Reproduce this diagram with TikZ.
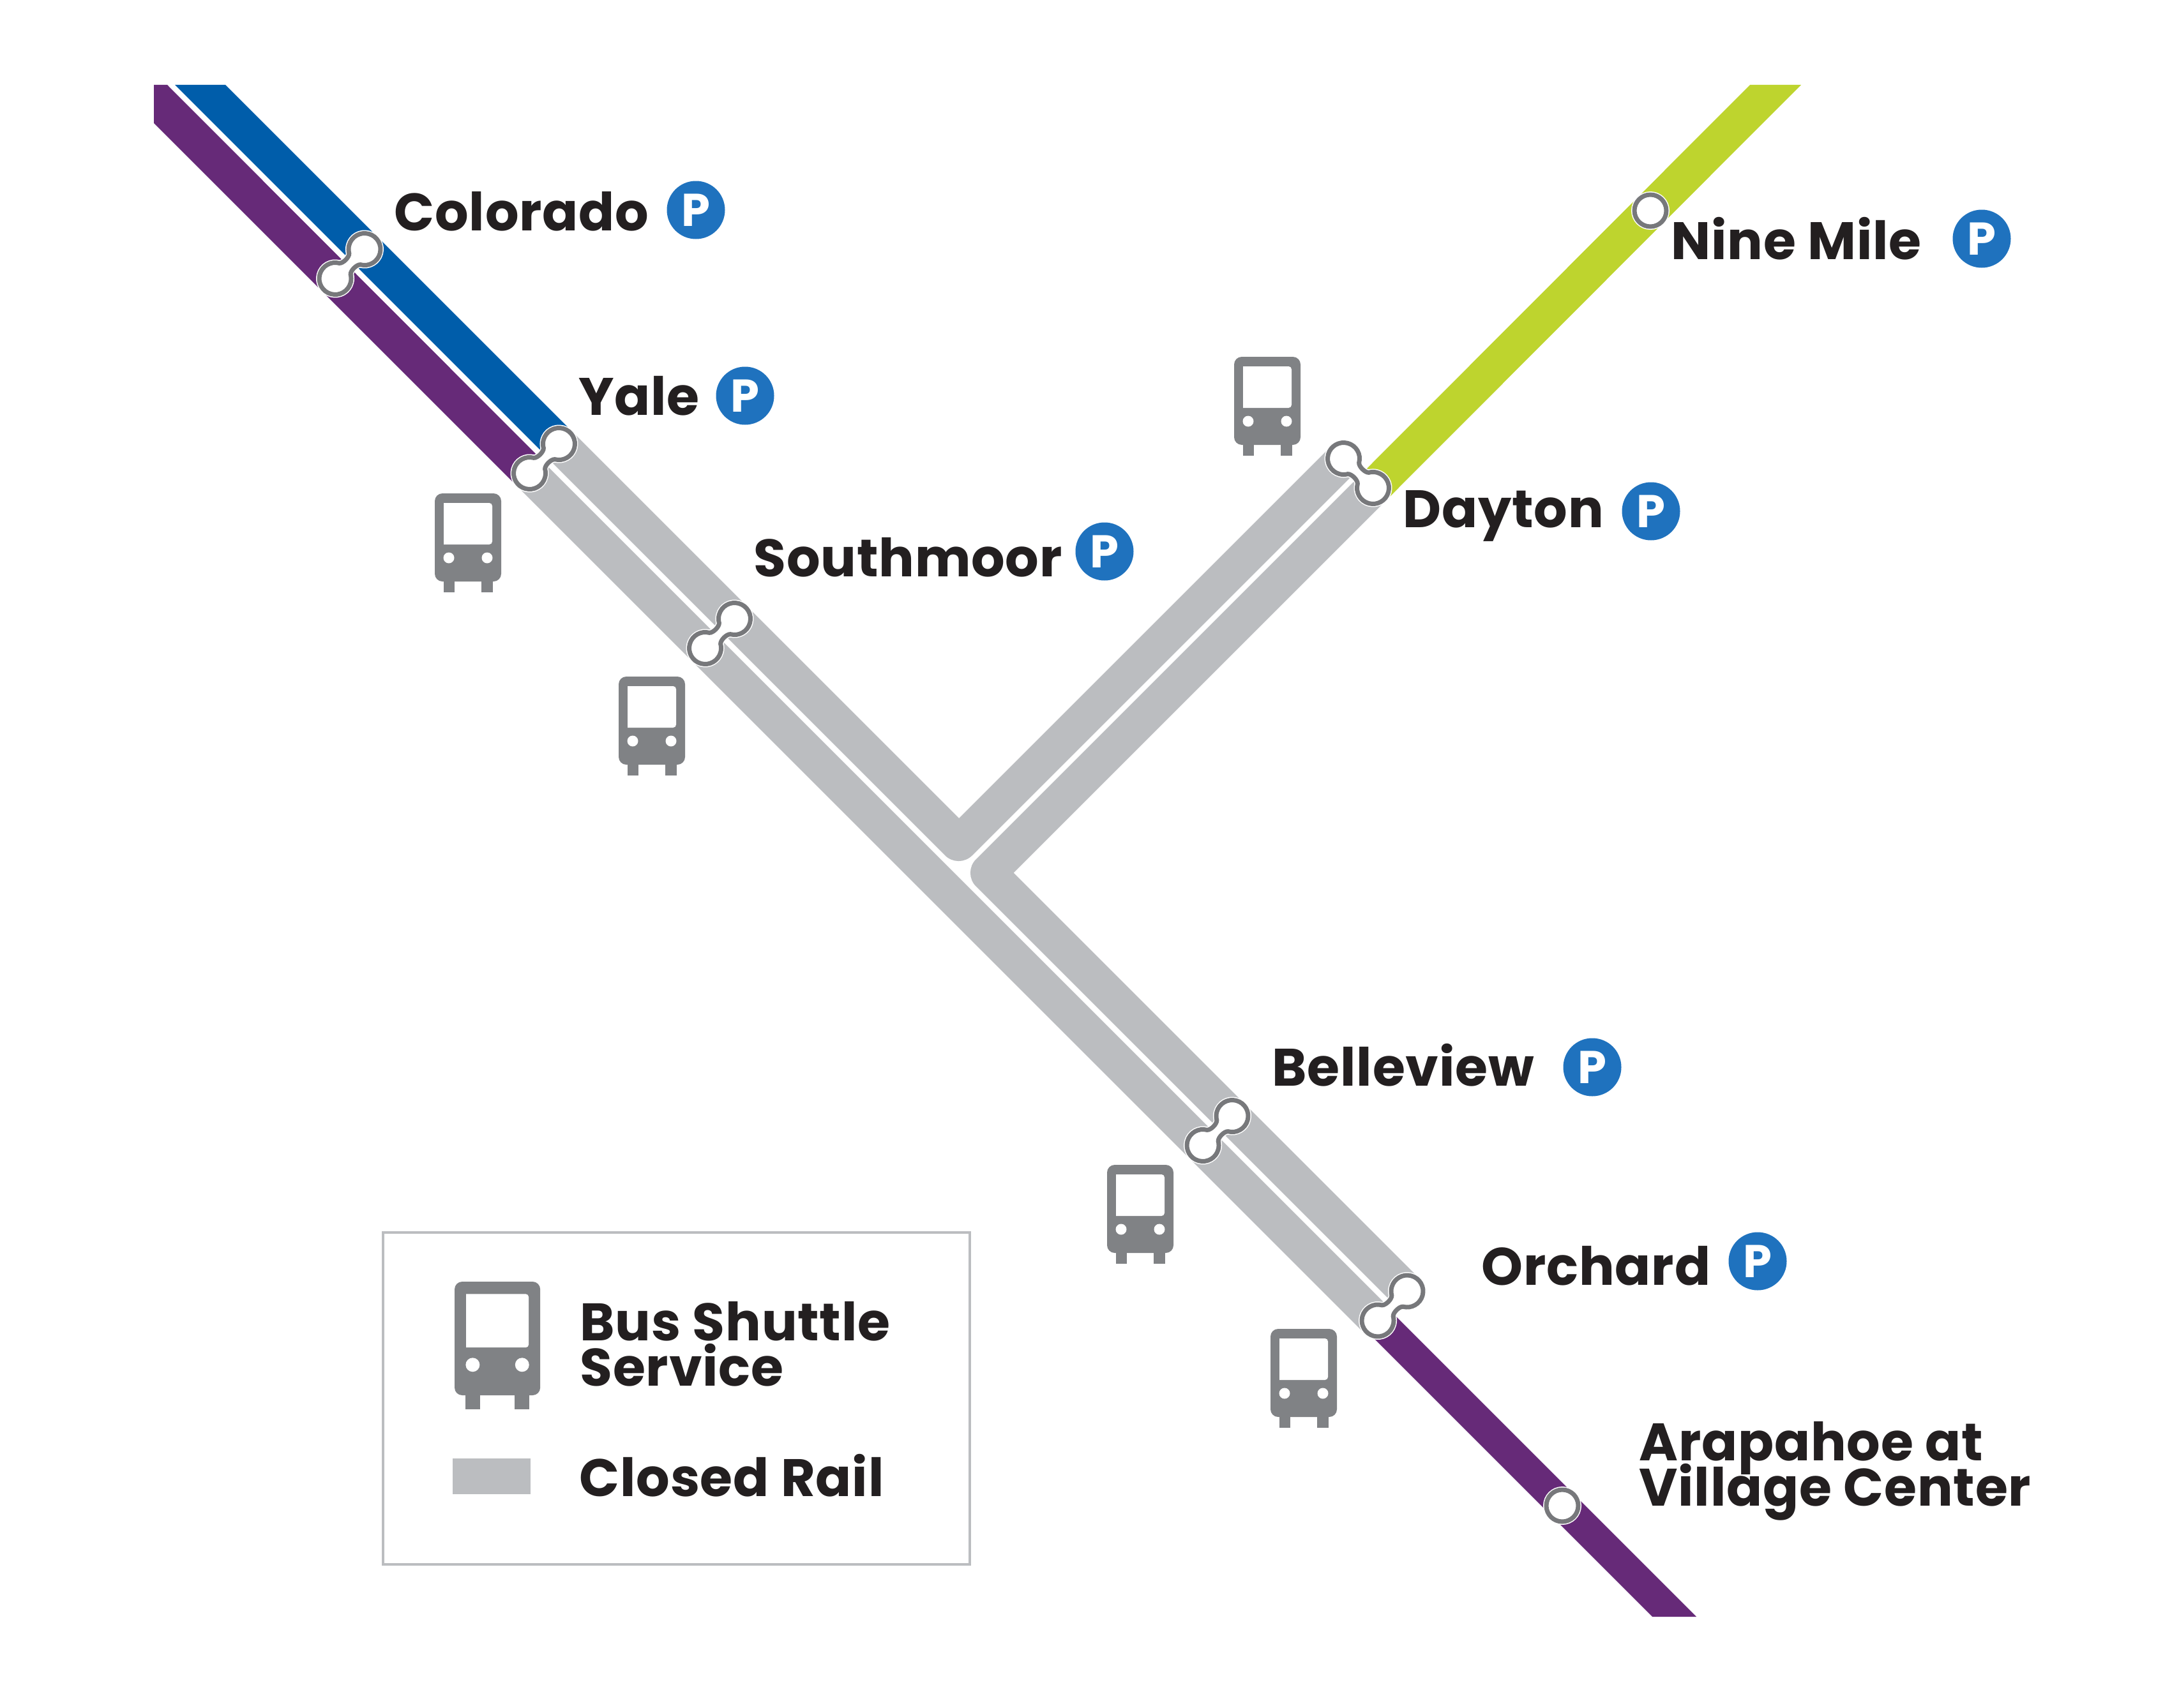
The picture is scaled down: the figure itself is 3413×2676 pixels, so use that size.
\documentclass[tikz,border=0pt]{standalone}
\usepackage{fontspec}
\newfontfamily\stnfamily{Poppins}[LetterSpace=1]
\newcommand{\stnfont}{\stnfamily\bfseries\fontsize{62}{53.25}\selectfont\lineskiplimit=-100pt\relax}
\definecolor{railpurple}{HTML}{662A78}
\definecolor{railblue}{HTML}{005DAA}
\definecolor{raillime}{HTML}{BED42E}
\definecolor{railclosed}{HTML}{BBBDC0}
\definecolor{busgray}{HTML}{808285}
\definecolor{ringgray}{HTML}{77787B}
\definecolor{inkblack}{HTML}{231F20}
\definecolor{parkblue}{HTML}{1F72BE}
\tikzset{
  every picture/.style={line width=0.75pt},
  stn/.style={anchor=base west,inner sep=0pt,text=inkblack,font=\stnfont},
  park/.style={circle,fill=parkblue,text=white,minimum size=68.25pt,inner sep=0pt,font=\stnfamily\bfseries\fontsize{54}{54}\selectfont},
  stnpair/.pic={
    \path[draw=white,line width=7.5pt] (10.85,12.5) .. controls (7,8) and (-7,8) .. (-10.85,12.5) arc[start angle=30,end angle=330,radius=25] .. controls (-7,-8) and (7,-8) .. (10.85,-12.5) arc[start angle=210,end angle=510,radius=25] -- cycle;
    \path[draw=ringgray,fill=white,line width=5.25pt] (10.85,12.5) .. controls (7,8) and (-7,8) .. (-10.85,12.5) arc[start angle=30,end angle=330,radius=25] .. controls (-7,-8) and (7,-8) .. (10.85,-12.5) arc[start angle=210,end angle=510,radius=25] -- cycle;
  },
  stnsingle/.pic={
    \draw[draw=white,line width=7.5pt] (0,0) circle[radius=25];
    \draw[draw=ringgray,fill=white,line width=5.25pt] (0,0) circle[radius=25];
  },
  bus/.pic={
    \fill[busgray,rounded corners=9pt] (0,0) rectangle (104,138);
    \fill[busgray] (13.5,130) rectangle (31,155);
    \fill[busgray] (73,130) rectangle (90.5,155);
    \fill[white] (14,80) -- (14,15) [rounded corners=3.5pt] -- (90,15) -- (90,80) [sharp corners] -- cycle;
    \fill[white] (22,101) circle[radius=8.5];
    \fill[white] (82,101) circle[radius=8.5];
  }
}
\begin{document}
\begin{tikzpicture}[x=0.75pt,y=0.75pt,yscale=-1,xscale=1]
    \path[use as bounding box,fill=white] (0,0) rectangle (3413,2676);

    %Shape: Polygon [purple north]
    \fill[railpurple] (241,133) -- (262,133) -- (849.5,721.5) -- (809.5,761.5) -- (241,193) -- cycle;
    %Shape: Polygon [blue]
    \fill[railblue] (274,133) -- (353,133) -- (895.5,675.5) -- (856,715) -- cycle;
    %Shape: Polygon [purple south]
    \fill[railpurple] (2175.5,2051.5) -- (2657,2533) -- (2588,2533) -- (2141,2086) -- cycle;
    %Shape: Polygon [lime]
    \fill[raillime] (2130.5,744.5) -- (2741,133) -- (2821,133) -- (2170.5,784.5) -- cycle;

    %Shape: Polygon [closed, long lane]
    \fill[railclosed] (849,722) -- (2177,2050) -- (2137.5,2089.5) -- (809.5,761.5) -- cycle;
    %Shape: Polygon [closed, upper lane]
    \fill[railclosed] (895.5,675.5) -- (1502,1282) -- (2085,699) -- (2124.5,738.5) [rounded corners=22.5pt] -- (1501.5,1361.5) [sharp corners] -- (855.5,715.5) -- cycle;
    %Shape: Polygon [closed, lower lane]
    \fill[railclosed] (2130.5,744.5) -- (2170.5,784.5) -- (1587.5,1367.5) -- (2223.5,2003.5) -- (2183.5,2043.5) [rounded corners=22.5pt] -- (1507.5,1367.5) [sharp corners] -- cycle;

    %Shape: Stations
    \pic[rotate=45] at (548,413.5) {stnpair};
    \pic[rotate=45] at (852.5,718.5) {stnpair};
    \pic[rotate=45] at (1127.5,992.5) {stnpair};
    \pic[rotate=-45] at (2127.5,741.5) {stnpair};
    \pic[rotate=45] at (1907,1771.5) {stnpair};
    \pic[rotate=45] at (2181,2046) {stnpair};
    \pic at (2585,330) {stnsingle};
    \pic at (2447,2359) {stnsingle};

    %Shape: Bus icons
    \pic[yscale=-1] at (681,773) {bus};
    \pic[yscale=-1] at (969,1060) {bus};
    \pic[yscale=-1] at (1933,559) {bus};
    \pic[yscale=-1] at (1734,1825) {bus};
    \pic[yscale=-1] at (1990,2082) {bus};

    % Text Node
    \draw (617,361) node (lblColorado) [stn] {Colorado};
    % Text Node
    \draw (906,650) node (lblYale) [stn] {Yale};
    % Text Node
    \draw (1180,903) node (lblSouthmoor) [stn] {Southmoor};
    % Text Node
    \draw (2617,406) node (lblNineMile) [stn] {Nine Mile};
    % Text Node
    \draw (2197,826) node (lblDayton) [stn] {Dayton};
    % Text Node
    \draw (1992,1701) node (lblBelleview) [stn] {Belleview};
    % Text Node
    \draw (2320,2013.5) node (lblOrchard) [stn] {Orchard};
    % Text Node
    \draw (2567,2359) node (lblArapahoe) [stn,align=left] {Arapahoe at\\Village Center};

    % Parking badges
    \draw (1090,329) node (pkColorado) [park] {P};
    \draw (1167,620) node (pkYale) [park] {P};
    \draw (1730,864) node (pkSouthmoor) [park] {P};
    \draw (3104,374) node (pkNineMile) [park] {P};
    \draw (2586,801) node (pkDayton) [park] {P};
    \draw (2494,1672) node (pkBelleview) [park] {P};
    \draw (2753,1976) node (pkOrchard) [park] {P};

    %Shape: Legend box
    \draw[railclosed,line width=3.5pt] (600,1931) rectangle (1519,2451);
    \pic[scale=1.29,yscale=-1] at (712,2008) {bus};
    \fill[railclosed] (709,2285) rectangle (831,2341);
    % Text Node
    \draw (908,2171) node (lblBus) [stn,align=left] {Bus Shuttle\\Service};
    % Text Node
    \draw (907,2344) node (lblClosed) [stn] {Closed Rail};
\end{tikzpicture}
\end{document}
